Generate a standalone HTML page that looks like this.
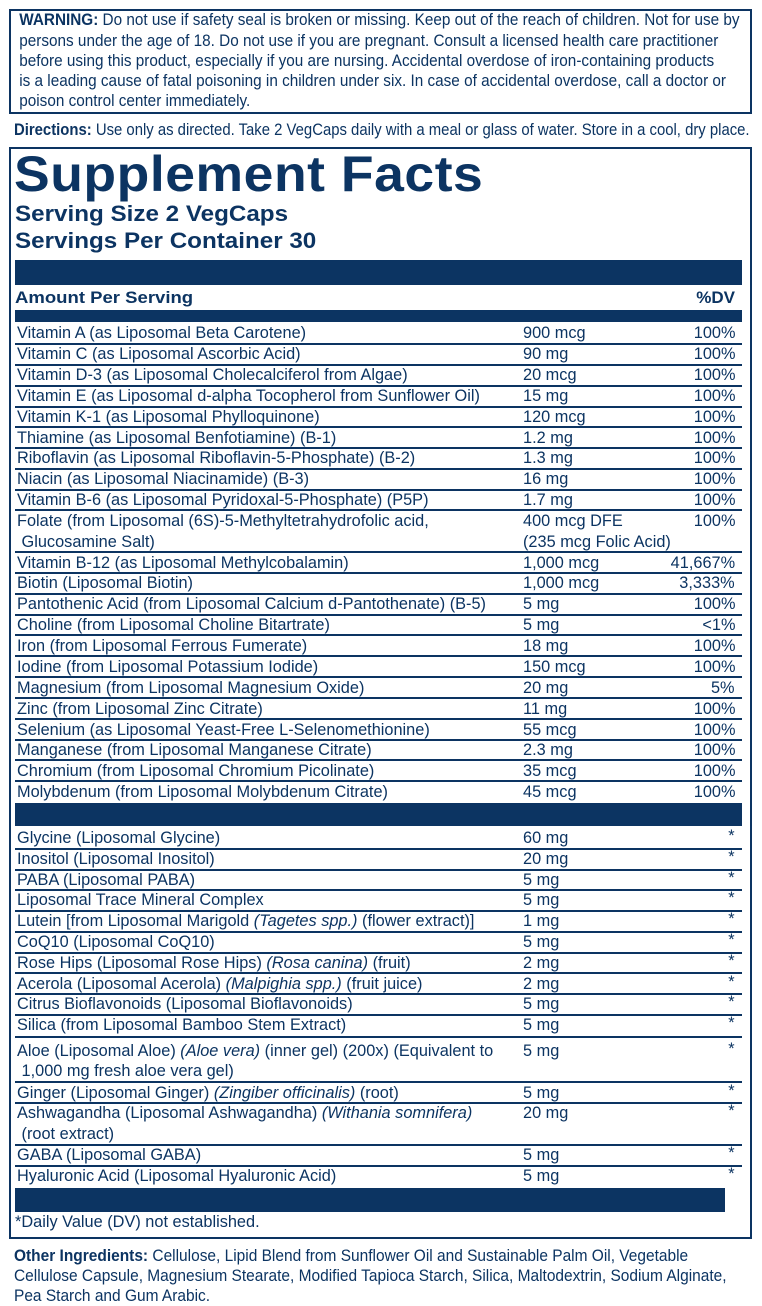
<!DOCTYPE html>
<html><head><meta charset="utf-8"><style>
*{margin:0;padding:0;box-sizing:border-box}
body{width:762px;height:1302px;background:#fff;position:relative;overflow:hidden;font-family:"Liberation Sans",Arial,sans-serif;color:#0c3462}
.box{position:absolute;border:2.5px solid #0c3462}
.t,.a{position:absolute;white-space:nowrap;font-size:17px;line-height:20px;transform:scaleX(.96);transform-origin:0 50%}
.t{left:17px}.a{left:523px}
.d{position:absolute;white-space:nowrap;font-size:17px;line-height:20px;right:27px;transform:scaleX(.96);transform-origin:100% 50%}
.l{position:absolute;left:15px;width:727px;height:1.5px;background:#0c3462}
.bar{position:absolute;left:15px;width:727px;background:#0c3462}
.w{position:absolute;left:15px;white-space:nowrap;font-size:17px;line-height:20px;transform:scaleX(.9);transform-origin:0 50%}
b{font-weight:bold}
</style></head><body>
<div class="box" style="left:9px;top:9px;width:743px;height:105px"></div>
<div class="w" style="top:10px">&nbsp;<b>WARNING:</b> Do not use if safety seal is broken or missing. Keep out of the reach of children. Not for use by</div>
<div class="w" style="top:31px">&nbsp;persons under the age of 18. Do not use if you are pregnant. Consult a licensed health care practitioner</div>
<div class="w" style="top:51px">&nbsp;before using this product, especially if you are nursing. Accidental overdose of iron-containing products</div>
<div class="w" style="top:71px">&nbsp;is a leading cause of fatal poisoning in children under six. In case of accidental overdose, call a doctor or</div>
<div class="w" style="top:91px">&nbsp;poison control center immediately.</div>
<div class="w" style="top:120px;left:14px;transform:scaleX(.875)"><b>Directions:</b> Use only as directed. Take 2 VegCaps daily with a meal or glass of water. Store in a cool, dry place.</div>

<div class="box" style="left:9px;top:147px;width:743px;height:1092px"></div>
<div style="position:absolute;left:14px;top:146px;font-size:50px;font-weight:bold;line-height:56px;white-space:nowrap;transform:scaleX(1.07);transform-origin:0 0;letter-spacing:0.5px">Supplement Facts</div>
<div style="position:absolute;left:15px;top:201px;font-size:22px;font-weight:bold;line-height:26px;white-space:nowrap;transform:scaleX(1.1);transform-origin:0 0">Serving Size 2 VegCaps</div>
<div style="position:absolute;left:15px;top:228px;font-size:22px;font-weight:bold;line-height:26px;white-space:nowrap;transform:scaleX(1.1);transform-origin:0 0">Servings Per Container 30</div>
<div class="bar" style="top:260px;height:25px"></div>
<div style="position:absolute;left:15px;top:288px;font-size:17px;font-weight:bold;line-height:20px;white-space:nowrap;transform:scaleX(1.09);transform-origin:0 0">Amount Per Serving</div>
<div style="position:absolute;right:27px;top:288px;font-size:17px;font-weight:bold;line-height:20px">%DV</div>
<div class="bar" style="top:310px;height:12px"></div>

<div class="t" style="top:323px">Vitamin A (as Liposomal Beta Carotene)</div><div class="a" style="top:323px">900 mcg</div><div class="d" style="top:323px">100%</div><div class="l" style="top:343px"></div>
<div class="t" style="top:344px">Vitamin C (as Liposomal Ascorbic Acid)</div><div class="a" style="top:344px">90 mg</div><div class="d" style="top:344px">100%</div><div class="l" style="top:364px"></div>
<div class="t" style="top:365px">Vitamin D-3 (as Liposomal Cholecalciferol from Algae)</div><div class="a" style="top:365px">20 mcg</div><div class="d" style="top:365px">100%</div><div class="l" style="top:385px"></div>
<div class="t" style="top:386px">Vitamin E (as Liposomal d-alpha Tocopherol from Sunflower Oil)</div><div class="a" style="top:386px">15 mg</div><div class="d" style="top:386px">100%</div><div class="l" style="top:406px"></div>
<div class="t" style="top:407px">Vitamin K-1 (as Liposomal Phylloquinone)</div><div class="a" style="top:407px">120 mcg</div><div class="d" style="top:407px">100%</div><div class="l" style="top:426px"></div>
<div class="t" style="top:428px">Thiamine (as Liposomal Benfotiamine) (B-1)</div><div class="a" style="top:428px">1.2 mg</div><div class="d" style="top:428px">100%</div><div class="l" style="top:447px"></div>
<div class="t" style="top:448px">Riboflavin (as Liposomal Riboflavin-5-Phosphate) (B-2)</div><div class="a" style="top:448px">1.3 mg</div><div class="d" style="top:448px">100%</div><div class="l" style="top:468px"></div>
<div class="t" style="top:469px">Niacin (as Liposomal Niacinamide) (B-3)</div><div class="a" style="top:469px">16 mg</div><div class="d" style="top:469px">100%</div><div class="l" style="top:489px"></div>
<div class="t" style="top:490px">Vitamin B-6 (as Liposomal Pyridoxal-5-Phosphate) (P5P)</div><div class="a" style="top:490px">1.7 mg</div><div class="d" style="top:490px">100%</div><div class="l" style="top:509px"></div>
<div class="t" style="top:511px">Folate (from Liposomal (6S)-5-Methyltetrahydrofolic acid,</div><div class="t" style="top:532px">&nbsp;Glucosamine Salt)</div><div class="a" style="top:511px">400 mcg DFE</div><div class="a" style="top:532px">(235 mcg Folic Acid)</div><div class="d" style="top:511px">100%</div><div class="l" style="top:551px"></div>
<div class="t" style="top:553px">Vitamin B-12 (as Liposomal Methylcobalamin)</div><div class="a" style="top:553px">1,000 mcg</div><div class="d" style="top:553px">41,667%</div><div class="l" style="top:572px"></div>
<div class="t" style="top:573px">Biotin (Liposomal Biotin)</div><div class="a" style="top:573px">1,000 mcg</div><div class="d" style="top:573px">3,333%</div><div class="l" style="top:593px"></div>
<div class="t" style="top:594px">Pantothenic Acid (from Liposomal Calcium d-Pantothenate) (B-5)</div><div class="a" style="top:594px">5 mg</div><div class="d" style="top:594px">100%</div><div class="l" style="top:614px"></div>
<div class="t" style="top:615px">Choline (from Liposomal Choline Bitartrate)</div><div class="a" style="top:615px">5 mg</div><div class="d" style="top:615px">&lt;1%</div><div class="l" style="top:634px"></div>
<div class="t" style="top:636px">Iron (from Liposomal Ferrous Fumerate)</div><div class="a" style="top:636px">18 mg</div><div class="d" style="top:636px">100%</div><div class="l" style="top:655px"></div>
<div class="t" style="top:657px">Iodine (from Liposomal Potassium Iodide)</div><div class="a" style="top:657px">150 mcg</div><div class="d" style="top:657px">100%</div><div class="l" style="top:676px"></div>
<div class="t" style="top:678px">Magnesium (from Liposomal Magnesium Oxide)</div><div class="a" style="top:678px">20 mg</div><div class="d" style="top:678px">5%</div><div class="l" style="top:697px"></div>
<div class="t" style="top:699px">Zinc (from Liposomal Zinc Citrate)</div><div class="a" style="top:699px">11 mg</div><div class="d" style="top:699px">100%</div><div class="l" style="top:718px"></div>
<div class="t" style="top:720px">Selenium (as Liposomal Yeast-Free L-Selenomethionine)</div><div class="a" style="top:720px">55 mcg</div><div class="d" style="top:720px">100%</div><div class="l" style="top:739px"></div>
<div class="t" style="top:740px">Manganese (from Liposomal Manganese Citrate)</div><div class="a" style="top:740px">2.3 mg</div><div class="d" style="top:740px">100%</div><div class="l" style="top:759px"></div>
<div class="t" style="top:761px">Chromium (from Liposomal Chromium Picolinate)</div><div class="a" style="top:761px">35 mcg</div><div class="d" style="top:761px">100%</div><div class="l" style="top:780px"></div>
<div class="t" style="top:782px">Molybdenum (from Liposomal Molybdenum Citrate)</div><div class="a" style="top:782px">45 mcg</div><div class="d" style="top:782px">100%</div>
<div class="bar" style="top:803px;height:23px"></div>

<div class="t" style="top:828px">Glycine (Liposomal Glycine)</div><div class="a" style="top:828px">60 mg</div><div class="d" style="top:826px">*</div><div class="l" style="top:848px"></div>
<div class="t" style="top:849px">Inositol (Liposomal Inositol)</div><div class="a" style="top:849px">20 mg</div><div class="d" style="top:847px">*</div><div class="l" style="top:869px"></div>
<div class="t" style="top:870px">PABA (Liposomal PABA)</div><div class="a" style="top:870px">5 mg</div><div class="d" style="top:868px">*</div><div class="l" style="top:889px"></div>
<div class="t" style="top:890px">Liposomal Trace Mineral Complex</div><div class="a" style="top:890px">5 mg</div><div class="d" style="top:888px">*</div><div class="l" style="top:910px"></div>
<div class="t" style="top:911px">Lutein [from Liposomal Marigold <i>(Tagetes spp.)</i> (flower extract)]</div><div class="a" style="top:911px">1 mg</div><div class="d" style="top:909px">*</div><div class="l" style="top:931px"></div>
<div class="t" style="top:932px">CoQ10 (Liposomal CoQ10)</div><div class="a" style="top:932px">5 mg</div><div class="d" style="top:930px">*</div><div class="l" style="top:952px"></div>
<div class="t" style="top:953px">Rose Hips (Liposomal Rose Hips) <i>(Rosa canina)</i> (fruit)</div><div class="a" style="top:953px">2 mg</div><div class="d" style="top:951px">*</div><div class="l" style="top:972px"></div>
<div class="t" style="top:974px">Acerola (Liposomal Acerola) <i>(Malpighia spp.)</i> (fruit juice)</div><div class="a" style="top:974px">2 mg</div><div class="d" style="top:972px">*</div><div class="l" style="top:993px"></div>
<div class="t" style="top:994px">Citrus Bioflavonoids (Liposomal Bioflavonoids)</div><div class="a" style="top:994px">5 mg</div><div class="d" style="top:992px">*</div><div class="l" style="top:1014px"></div>
<div class="t" style="top:1015px">Silica (from Liposomal Bamboo Stem Extract)</div><div class="a" style="top:1015px">5 mg</div><div class="d" style="top:1013px">*</div><div class="l" style="top:1036px"></div>
<div class="t" style="top:1041px">Aloe (Liposomal Aloe) <i>(Aloe vera)</i> (inner gel) (200x) (Equivalent to</div><div class="t" style="top:1061px">&nbsp;1,000 mg fresh aloe vera gel)</div><div class="a" style="top:1041px">5 mg</div><div class="d" style="top:1039px">*</div><div class="l" style="top:1081px"></div>
<div class="t" style="top:1083px">Ginger (Liposomal Ginger) <i>(Zingiber officinalis)</i> (root)</div><div class="a" style="top:1083px">5 mg</div><div class="d" style="top:1081px">*</div><div class="l" style="top:1102px"></div>
<div class="t" style="top:1103px">Ashwagandha (Liposomal Ashwagandha) <i>(Withania somnifera)</i></div><div class="t" style="top:1124px">&nbsp;(root extract)</div><div class="a" style="top:1103px">20 mg</div><div class="d" style="top:1101px">*</div><div class="l" style="top:1144px"></div>
<div class="t" style="top:1145px">GABA (Liposomal GABA)</div><div class="a" style="top:1145px">5 mg</div><div class="d" style="top:1143px">*</div><div class="l" style="top:1165px"></div>
<div class="t" style="top:1166px">Hyaluronic Acid (Liposomal Hyaluronic Acid)</div><div class="a" style="top:1166px">5 mg</div><div class="d" style="top:1164px">*</div>
<div class="bar" style="top:1188px;height:24px;width:710px"></div>
<div class="t" style="top:1212px;left:15px">*Daily Value (DV) not established.</div>

<div class="w" style="top:1246px;left:14px;transform:scaleX(.91)"><b>Other Ingredients:</b> Cellulose, Lipid Blend from Sunflower Oil and Sustainable Palm Oil, Vegetable</div>
<div class="w" style="top:1266px;left:14px;transform:scaleX(.91)">Cellulose Capsule, Magnesium Stearate, Modified Tapioca Starch, Silica, Maltodextrin, Sodium Alginate,</div>
<div class="w" style="top:1286px;left:14px;transform:scaleX(.91)">Pea Starch and Gum Arabic.</div>
</body></html>
